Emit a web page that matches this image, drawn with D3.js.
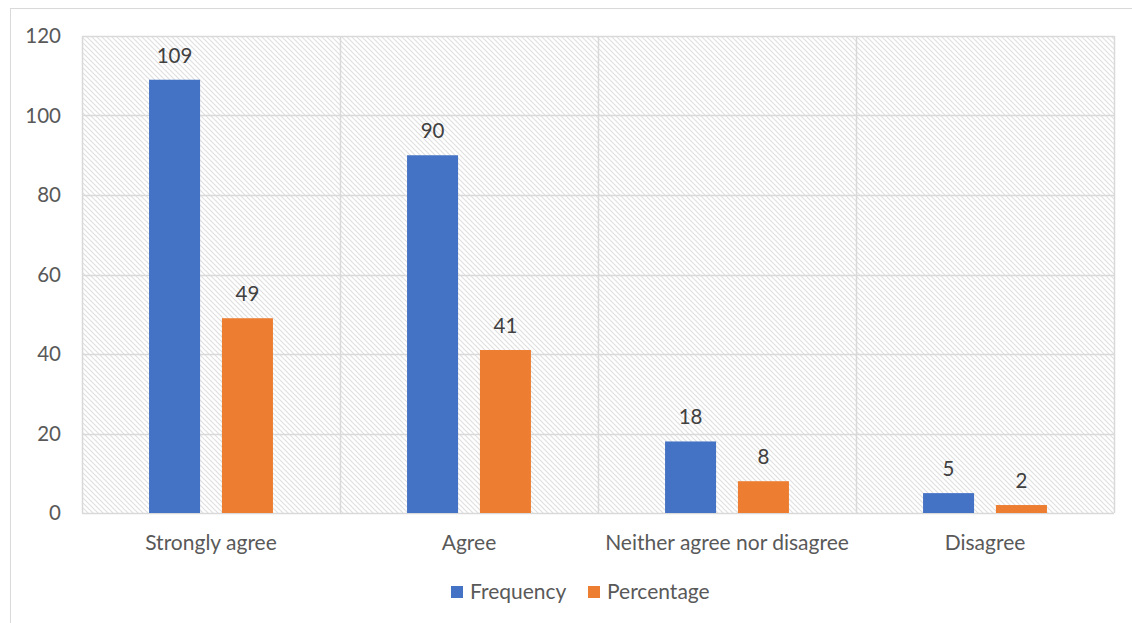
<!DOCTYPE html>
<html>
<head>
<meta charset="utf-8">
<script src="https://cdn.jsdelivr.net/npm/d3@7"></script>
<style>
  html, body { margin: 0; padding: 0; background: #fff; }
  svg { display: block; }
  text { font-family: Lato, "Open Sans", sans-serif; }
</style>
</head>
<body>
<svg id="chart" width="1132" height="623"></svg>
<script>
const categories = ["Strongly agree", "Agree", "Neither agree nor disagree", "Disagree"];
const seriesNames = ["Frequency", "Percentage"];
const frequency = [109, 90, 18, 5];
const percentage = [49, 41, 8, 2];
const yTicks = [0, 20, 40, 60, 80, 100, 120];
const colors = ["#4472C4", "#ED7D31"];

const svg = d3.select("#chart");
const plot = { left: 82, right: 1114, top: 36, bottom: 513 };

// outer chart border
svg.append("rect").attr("x", 10.5).attr("y", 8.5).attr("width", 1140).attr("height", 640)
  .attr("fill", "#fff").attr("stroke", "#d9d9d9").attr("stroke-width", 1);

// hatch pattern
const defs = svg.append("defs");
const pat = defs.append("pattern").attr("id", "hatch").attr("patternUnits", "userSpaceOnUse")
  .attr("width", 5).attr("height", 5);
pat.append("rect").attr("width", 5).attr("height", 5).attr("fill", "#fff");
pat.append("path").attr("d", "M-1,-1 L6,6 M-6,-1 L1,6 M4,-1 L11,6")
  .attr("stroke", "#e0e0e0").attr("stroke-width", 1.2);

const x0 = d3.scaleBand().domain(categories).range([plot.left, plot.right]).paddingInner(0).paddingOuter(0);
const x1 = d3.scaleBand().domain(seriesNames).range([0, x0.bandwidth()]).paddingInner(0.3).paddingOuter(0.92);
const y = d3.scaleLinear().domain([0, 120]).range([plot.bottom, plot.top]);

svg.append("rect").attr("x", plot.left).attr("y", plot.top)
  .attr("width", plot.right - plot.left).attr("height", plot.bottom - plot.top)
  .attr("fill", "url(#hatch)");

// horizontal gridlines
svg.append("g").selectAll("line").data(yTicks).join("line")
  .attr("x1", plot.left).attr("x2", plot.right)
  .attr("y1", d => Math.round(y(d)) + 0.5).attr("y2", d => Math.round(y(d)) + 0.5)
  .attr("stroke", "#d9d9d9").attr("stroke-width", 1.5);

// vertical category lines
const vx = categories.map(c => x0(c)).concat([plot.right]);
svg.append("g").selectAll("line").data(vx).join("line")
  .attr("x1", d => Math.round(d) + 0.5).attr("x2", d => Math.round(d) + 0.5)
  .attr("y1", plot.top).attr("y2", plot.bottom)
  .attr("stroke", "#d9d9d9").attr("stroke-width", 1.5);

// y axis labels
svg.append("g").selectAll("text").data(yTicks).join("text")
  .attr("x", 61).attr("y", d => y(d)).attr("dy", "0.35em")
  .attr("text-anchor", "end").attr("font-size", 20.5).attr("fill", "#595959")
  .text(d => d);

// bars
const data = categories.map((c, i) => ({ cat: c, vals: [frequency[i], percentage[i]] }));
const groups = svg.append("g").selectAll("g").data(data).join("g")
  .attr("transform", d => `translate(${x0(d.cat)},0)`);
groups.selectAll("rect").data(d => d.vals.map((v, j) => ({ v, s: seriesNames[j], j })))
  .join("rect")
  .attr("x", d => x1(d.s)).attr("width", x1.bandwidth())
  .attr("y", d => y(d.v)).attr("height", d => y(0) - y(d.v))
  .attr("fill", d => colors[d.j]);
groups.selectAll("text").data(d => d.vals.map((v, j) => ({ v, s: seriesNames[j], j })))
  .join("text")
  .attr("x", d => x1(d.s) + x1.bandwidth() / 2).attr("y", d => y(d.v) - 17)
  .attr("text-anchor", "middle").attr("font-size", 20.5).attr("fill", "#404040")
  .text(d => d.v);

// category labels
svg.append("g").selectAll("text").data(categories).join("text")
  .attr("x", d => x0(d) + x0.bandwidth() / 2).attr("y", 550)
  .attr("text-anchor", "middle").attr("font-size", 21).attr("fill", "#595959")
  .text(d => d);

// legend
const legendItems = [{ name: "Frequency", x: 451 }, { name: "Percentage", x: 588 }];
const lg = svg.append("g").selectAll("g").data(legendItems).join("g")
  .attr("transform", d => `translate(${d.x},586)`);
lg.append("rect").attr("width", 12).attr("height", 12).attr("fill", (d, i) => colors[i]);
lg.append("text").attr("x", 19).attr("y", 6).attr("dy", "0.35em")
  .attr("font-size", 21).attr("fill", "#595959").text(d => d.name);
</script>
</body>
</html>
